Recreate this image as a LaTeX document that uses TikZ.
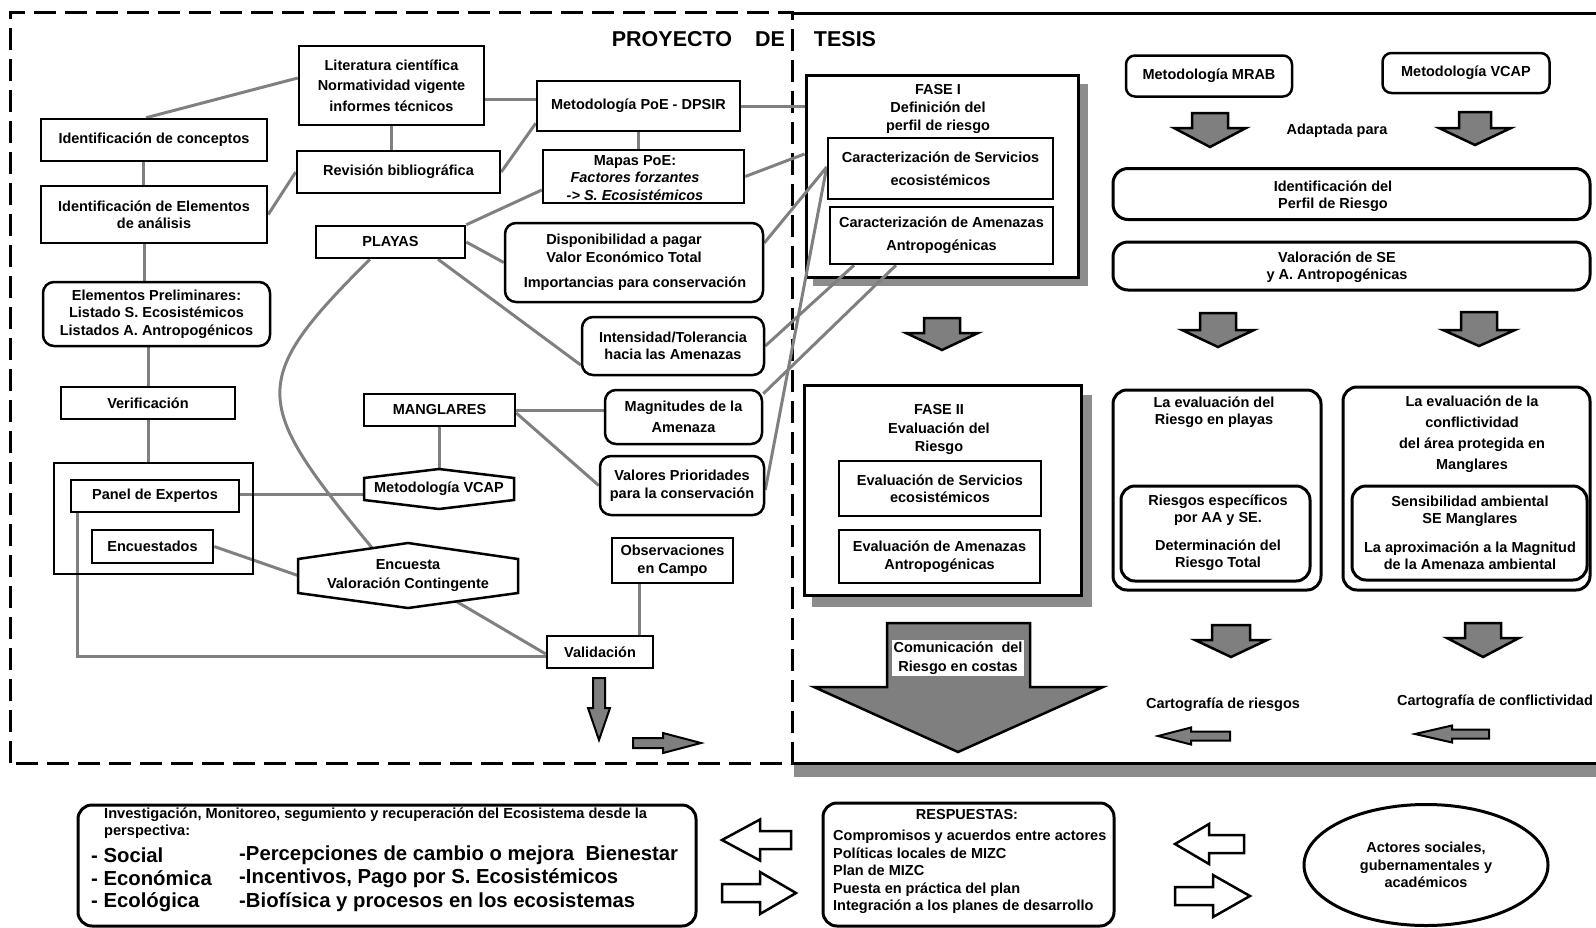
\documentclass[tikz,border=0pt]{standalone}
\usepackage{fontspec}
\setmainfont{Liberation Sans}
\usetikzlibrary{calc,shapes.geometric}
\definecolor{lgray}{HTML}{808080}
\definecolor{agray}{HTML}{7F7F7F}
\definecolor{sgray}{HTML}{8C8C8C}
\pgfdeclarelayer{bottom}
\pgfdeclarelayer{background}
\pgfsetlayers{bottom,background,main}
% style, cx, top y, head y, tip y, shaft half, head half
\newcommand{\vtarrow}[7]{\draw[#1] ({#2-#6},#3) -- ({#2+#6},#3) -- ({#2+#6},#4) -- ({#2+#7},#4) -- (#2,#5) -- ({#2-#7},#4) -- ({#2-#6},#4) -- cycle;}
% style, cy, tail x, head base x, tip x, shaft half, head half
\newcommand{\hzarrow}[7]{\draw[#1] (#3,{#2-#6}) -- (#4,{#2-#6}) -- (#4,{#2-#7}) -- (#5,#2) -- (#4,{#2+#7}) -- (#4,{#2+#6}) -- (#3,{#2+#6}) -- cycle;}
\begin{document}
\begin{tikzpicture}[x=1pt,y=-1pt,
  every node/.style={font=\bfseries\fontsize{14.5}{17.5}\selectfont},
  bx/.style={draw, line width=2.5pt, fill=white, inner sep=0pt, align=center},
  rbx/.style={bx, rounded corners=11pt},
  lbl/.style={inner sep=0pt, align=center},
  conn/.style={draw=lgray, line width=3pt},
  blk/.style={draw=black, line width=2.5pt, fill=agray, line join=miter},
  opn/.style={draw=black, line width=2.5pt, fill=white, line join=miter},
  hexs/.style={draw, line width=2.5pt, fill=white, line join=miter},
  sbx/.style={draw, line width=3pt, fill=white, inner sep=0pt},
  big/.style={font=\bfseries\fontsize{20.3}{24}\selectfont},
  ttl/.style={font=\bfseries\fontsize{21.5}{25}\selectfont}]
\useasboundingbox (0,0) rectangle (1596,927);

% ---------- frames ----------
\begin{pgfonlayer}{bottom}
\draw[line width=3pt, dash pattern=on 22pt off 9pt] (10,763) -- (10,12) -- (792,12) -- (792,763) -- cycle;
\fill[sgray] (794,765) rectangle (1596,777);
\draw[line width=3pt] (792,13) -- (1596,13);
\draw[line width=3pt] (792,763) -- (1596,763);
% FASE I and II boxes with shadows
\fill[sgray] (813,84) rectangle (1088,286);
\node[sbx, minimum width=272, minimum height=202] (fase1) at (942,176) {};
\fill[sgray] (812,395) rectangle (1092,607);
\node[sbx, minimum width=277, minimum height=210] (fase2) at (942.5,490) {};
\end{pgfonlayer}

\node[ttl, lbl] (tproy) at (672,39) {PROYECTO};
\node[ttl, lbl] (tde) at (770,39) {DE};
\node[ttl, lbl] (ttesis) at (845,39) {TESIS};

% ---------- left column ----------
\node[bx, minimum width=226, minimum height=42] (conc) at (154,140) {Identificación de conceptos};
\node[bx, minimum width=226, minimum height=57] (elem) at (154,214.5) {Identificación de Elementos\\de análisis};
\node[rbx, minimum width=227, minimum height=64] (prelim) at (156.5,314) {Elementos Preliminares:\\Listado S. Ecosistémicos\\Listados A. Antropogénicos};
\node[bx, minimum width=174, minimum height=32] (verif) at (148,403) {Verificación};
\node[draw, line width=2.5pt, inner sep=0pt, minimum width=199, minimum height=111] (panelbox) at (153.5,518.5) {};
\node[bx, minimum width=168, minimum height=32] (panel) at (155,496) {Panel de Expertos};
\node[bx, minimum width=121, minimum height=33] (encu) at (152.5,546.5) {Encuestados};

% ---------- middle column ----------
\node[bx, minimum width=185, minimum height=79] (lit) at (391.5,85.5) {Literatura científica\\[3pt]Normatividad vigente\\[3pt]informes técnicos};
\node[bx, minimum width=203, minimum height=42] (rev) at (398.5,172) {Revisión bibliográfica};
\node[bx, minimum width=149, minimum height=32] (playas) at (390.5,242) {PLAYAS};
\node[bx, minimum width=203, minimum height=50] (poe) at (638.5,106) {Metodología PoE - DPSIR};
\node[bx, minimum width=201, minimum height=53] (mapas) at (643.5,176.5) {};
\node[lbl] (mapast) at (635,178) {Mapas PoE:\\\textit{Factores forzantes}\\\textit{-> S. Ecosistémicos}};
\node[rbx, minimum width=258, minimum height=79] (dispo) at (634,262.5) {};
\node[lbl] (dispo1) at (624,248.5) {Disponibilidad a pagar\\Valor Económico Total};
\node[lbl] (dispo2) at (635,284) {Importancias para conservación};
\node[rbx, minimum width=182, minimum height=58] (inten) at (673,346) {Intensidad/Tolerancia\\hacia las Amenazas};
\node[bx, minimum width=151, minimum height=32] (mang) at (439.5,410) {MANGLARES};
\node[rbx, minimum width=157, minimum height=54] (magn) at (683.5,417) {Magnitudes de la\\[3pt]Amenaza};
\node[rbx, minimum width=164, minimum height=59] (valores) at (682,485.5) {Valores Prioridades\\para la conservación};
\draw[hexs] (364,478) -- (439,469) -- (514,478) -- (514,500) -- (439,509) -- (364,500) -- cycle;
\node[lbl, minimum width=150, minimum height=40] (vcap) at (439,489) {Metodología VCAP};
\draw[hexs] (298,559) -- (408,543) -- (518,559) -- (518,593) -- (408,608) -- (298,593) -- cycle;
\node[lbl, minimum width=220, minimum height=65] (enc) at (408,575.5) {Encuesta\\[1.5pt]Valoración Contingente};
\node[bx, minimum width=121, minimum height=45] (obs) at (672.5,560.5) {Observaciones\\en Campo};
\node[bx, minimum width=106, minimum height=32] (valid) at (600,652) {Validación};
\vtarrow{blk, line width=2pt}{599}{678}{708}{740}{6}{11}
\hzarrow{blk, line width=2pt}{743}{633}{663}{701}{5}{10}

% ---------- FASE I / II ----------
\node[lbl, font=\bfseries\fontsize{14.5}{18}\selectfont] (fase1t) at (938,108.5) {FASE I\\Definición del\\perfil de riesgo};
\node[bx, minimum width=225, minimum height=61] (cs1) at (940.5,168.5) {Caracterización de Servicios\\[5.5pt]ecosistémicos};
\node[bx, minimum width=223, minimum height=57] (ca1) at (941.5,235.5) {Caracterización de Amenazas\\[5.5pt]Antropogénicas};
\vtarrow{blk}{942}{318}{333}{350}{18}{36}
\node[lbl, font=\bfseries\fontsize{14.5}{18.5}\selectfont] (fase2t) at (939,429.5) {FASE II\\Evaluación del\\Riesgo};
\node[bx, minimum width=202, minimum height=55] (es2) at (940,488.5) {Evaluación de Servicios\\ecosistémicos};
\node[bx, minimum width=201, minimum height=53] (ea2) at (939.5,556.5) {Evaluación de Amenazas\\Antropogénicas};
\draw[blk] (887,623) -- (1030,623) -- (1030,687) -- (1103,687) -- (958,752) -- (814,687) -- (887,687) -- cycle;
\node[lbl, fill=white, inner sep=2pt, font=\bfseries\fontsize{14.5}{19}\selectfont] (comt) at (958,658) {Comunicación\ \ del\\Riesgo en costas};

% ---------- right part ----------
\node[rbx, rounded corners=9pt, minimum width=166, minimum height=41] (mrab) at (1209,76) {Metodología MRAB};
\node[rbx, rounded corners=9pt, minimum width=167, minimum height=40] (vcap2) at (1466,73) {Metodología VCAP};
\vtarrow{blk}{1210}{113}{128}{147}{18}{36}
\vtarrow{blk}{1475}{112}{128}{145}{16}{36}
\node[lbl] (adapt) at (1337,131) {Adaptada para};
\node[rbx, rounded corners=15pt, line width=3pt, minimum width=477, minimum height=51] (perfil) at (1351.5,194) {};
\node[lbl] (perfilt) at (1333,196) {Identificación del\\Perfil de Riesgo};
\node[rbx, rounded corners=15pt, line width=3pt, minimum width=477, minimum height=48] (valse) at (1351.5,266) {};
\node[lbl] (valset) at (1337,267) {Valoración de SE\\y A. Antropogénicas};
\vtarrow{blk}{1218}{313}{330}{347}{18}{36}
\vtarrow{blk}{1479}{312}{330}{346}{18}{36}

\node[rbx, rounded corners=14pt, line width=3pt, minimum width=208, minimum height=200] (evp) at (1217,490) {};
\node[lbl] (evpt) at (1214,412) {La evaluación del\\Riesgo en playas};
\node[rbx, rounded corners=14pt, line width=3pt, minimum width=189, minimum height=95] (evpin) at (1215.5,533.5) {};
\node[lbl] (evpint) at (1218,532.5) {Riesgos específicos\\por AA y SE.\\[10pt]Determinación del\\Riesgo Total};
\node[rbx, rounded corners=14pt, line width=3pt, minimum width=247, minimum height=203] (evc) at (1466.5,488.5) {};
\node[lbl, font=\bfseries\fontsize{14.5}{21}\selectfont] (evct) at (1472,434) {La evaluación de la\\conflictividad\\del área protegida en\\Manglares};
\node[rbx, rounded corners=14pt, line width=3pt, minimum width=235, minimum height=94] (evcin) at (1469.5,533) {};
\node[lbl] (evcint) at (1470,533) {Sensibilidad ambiental\\SE Manglares\\[11pt]La aproximación a la Magnitud\\de la Amenaza ambiental};

\vtarrow{blk}{1231}{625}{640}{657}{19}{36}
\vtarrow{blk}{1483}{623}{638}{657}{18}{36}
\node[lbl] (cart1) at (1223,705) {Cartografía de riesgos};
\node[lbl] (cart2) at (1495,702) {Cartografía de conflictividad};
\hzarrow{blk, line width=2pt}{736}{1230}{1191}{1158}{4.5}{8.5}
\hzarrow{blk, line width=2pt}{734}{1489}{1452}{1415}{4.5}{8.5}

% ---------- bottom ----------
\node[rbx, rounded corners=14pt, line width=3pt, minimum width=618, minimum height=121] (inv) at (387,865.5) {};
\node[lbl, anchor=west, font=\bfseries\fontsize{14.6}{17}\selectfont] (inv1) at (104,815) {Investigación, Monitoreo, segumiento y recuperación del Ecosistema desde la};
\node[lbl, anchor=west, font=\bfseries\fontsize{14.6}{17}\selectfont] (inv2) at (104,832) {perspectiva:};
\node[lbl, big, anchor=west] (b1) at (91,855) {- Social};
\node[lbl, big, anchor=west] (b2) at (91,878.5) {- Económica};
\node[lbl, big, anchor=west] (b3) at (91,902) {- Ecológica};
\node[lbl, big, anchor=west] (c1) at (239,855) {-Percepciones de cambio o mejora\ \ Bienestar};
\node[lbl, big, anchor=west] (c2) at (239,878.5) {-Incentivos, Pago por S. Ecosistémicos};
\node[lbl, big, anchor=west] (c3) at (239,902) {-Biofísica y procesos en los ecosistemas};

\hzarrow{opn}{840}{791}{760}{722}{9}{20.5}
\hzarrow{opn}{893}{722}{760}{796}{9}{21}

\node[rbx, rounded corners=14pt, line width=3pt, minimum width=291, minimum height=123] (resp) at (968.5,864.5) {};
\node[lbl] (respt) at (967,814) {RESPUESTAS:};
\node[lbl, anchor=west, align=left] (respl) at (833,872) {Compromisos y acuerdos entre actores\\Políticas locales de MIZC\\Plan de MIZC\\Puesta en práctica del plan\\Integración a los planes de desarrollo};

\hzarrow{opn}{844}{1244}{1209}{1175}{9}{20}
\hzarrow{opn}{896}{1175}{1213}{1250}{9}{21}

\node[draw, ellipse, line width=3pt, inner sep=0pt, align=center, minimum width=244, minimum height=121] (actores) at (1426,865) {Actores sociales,\\gubernamentales y\\académicos};

% ---------- connectors ----------
\begin{pgfonlayer}{background}
\draw[conn] ([yshift=7.5pt]lit.west) -- ([xshift=-8pt]conc.north);
\draw[conn] (lit.south) -- (lit.south |- rev.north);
\draw[conn] ([yshift=-13.5pt]lit.east) -- ([yshift=7pt]poe.west);
\draw[conn] (rev.east) -- ([yshift=9pt]poe.south west);
\draw[conn] (rev.west) -- (elem.east);
\draw[conn] ([xshift=-11pt]conc.south) -- ([xshift=-11pt]elem.north);
\draw[conn] ([xshift=-10pt]elem.south) -- ([xshift=-10pt]elem.south |- prelim.north);
\draw[conn] (verif.north |- prelim.south) -- (verif.north);
\draw[conn] (verif.south) -- (verif.south |- panelbox.north);
\draw[conn] (poe.south) -- (poe.south |- mapas.north);
\draw[conn] (poe.east) -- (poe.east -| fase1.west);
\draw[conn] (mapas.east) -- ([yshift=22pt]fase1.west);
\draw[conn] (playas.north east) -- ([yshift=-13.5pt]mapas.west);
\draw[conn] (playas.east) -- (dispo.west);
\draw[conn] ([xshift=47.5pt]playas.south) -- ([yshift=-19pt]inten.west);
\draw[conn] ([xshift=-20.5pt]playas.south) .. controls (246,382) and (253,403) .. ($(enc.north)+(-36,5)$);
\coordinate (csL) at ([yshift=1.5pt]cs1.west);
\draw[conn] ([yshift=19.5pt]dispo.east) -- (csL);
\draw[conn] (inten.east) -- ([xshift=-87.5pt]ca1.south);
\draw[conn] ([yshift=-5pt]magn.north east) -- ([xshift=-45.5pt]ca1.south);
\draw[conn] ([yshift=-4.5pt]valores.east) -- (csL);
\draw[conn] (mang.east) -- (mang.east -| magn.west);
\draw[conn] ([yshift=-3pt]mang.east) -- (valores.west);
\draw[conn] (mang.south) -- (mang.south |- vcap.north);
\draw[conn] ([yshift=2pt]panel.east) -- ([yshift=2pt]panel.east -| vcap.west);
\draw[conn] (encu.east) -- (enc.west);
\draw[conn] ([xshift=8pt]panel.south west) |- ([yshift=-4pt]valid.west);
\draw[conn] ($(enc.south)+(48,-7)$) -- ([yshift=-2pt]valid.west);
\draw[conn] ([xshift=-33.5pt]obs.south) -- ([xshift=-33.5pt]obs.south |- valid.north);
\end{pgfonlayer}
\end{tikzpicture}
\end{document}
